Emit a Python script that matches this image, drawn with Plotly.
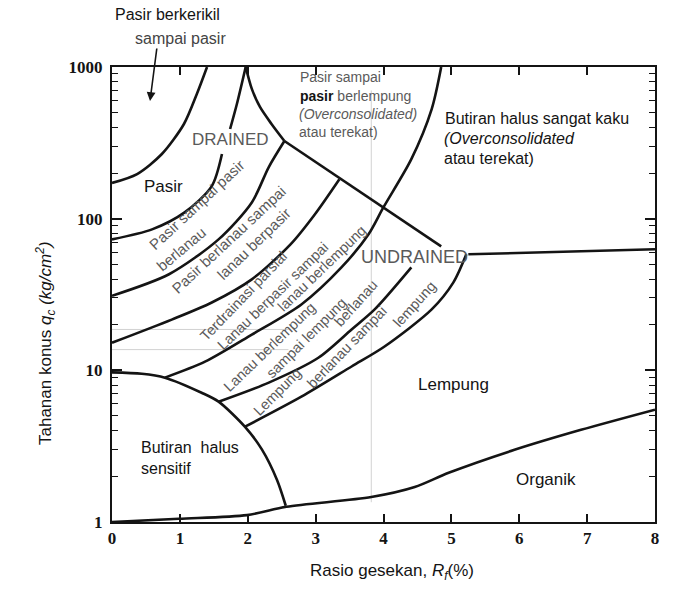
import numpy as np
import plotly.graph_objects as go

# ---- zone boundaries (Rf in %, qc in kg/cm2) ----
rf_gravel = [0.0, 0.37, 0.735, 1.06, 1.25, 1.40]
qc_gravel = [172, 197, 267, 421, 664, 1000]

rf_sand_lo = [0.0, 0.59, 1.07, 1.47, 1.62]
qc_sand_lo = [73, 85, 110, 164, 267]
rf_sand_hi = [1.74, 1.84, 1.97]
qc_sand_hi = [390, 570, 1000]

rf_cusp = [1.97, 2.06, 2.18, 2.35, 2.54]
qc_cusp = [1000, 717, 545, 421, 325]

rf_diag = [2.54, 4.85]
qc_diag = [325, 65.7]

rf_flat = [5.25, 8.0]
qc_flat = [58.2, 62.8]

rf_silty_sand = [0.0, 0.84, 1.57, 2.06, 2.31, 2.54]
qc_silty_sand = [31, 43, 73, 128, 219, 325]

rf_sandy_silt = [0.0, 0.88, 1.47, 2.06, 2.63, 2.99, 3.35]
qc_sandy_silt = [15.2, 21.6, 28.0, 39.8, 67.7, 107, 182]

rf_stiff = [0.78, 1.37, 2.06, 2.79, 3.38, 3.78, 4.0, 4.41, 4.71, 4.85]
qc_stiff = [8.95, 11.4, 17.2, 27.2, 47.7, 78.9, 119, 247, 528, 1000]

rf_clayey_silt = [1.57, 2.31, 3.04, 3.53, 3.87, 4.41]
qc_clayey_silt = [6.21, 8.3, 12.1, 18.6, 25.2, 47.7]

rf_silty_clay = [1.96, 2.79, 3.53, 4.01, 4.71, 5.03, 5.22]
qc_silty_clay = [4.25, 6.7, 10.6, 14.3, 25.2, 38.0, 58.2]

rf_sensitive = [0.0, 0.44, 0.78, 1.32, 1.57, 1.96, 2.21, 2.43, 2.56]
qc_sensitive = [9.7, 9.5, 8.95, 7.12, 6.22, 4.24, 3.0, 1.9, 1.28]

rf_organic = [0.0, 0.985, 1.99, 2.57, 3.82, 4.46, 4.96, 5.93, 6.91, 8.0]
qc_organic = [1.0, 1.05, 1.11, 1.26, 1.46, 1.70, 2.11, 2.99, 4.05, 5.50]

# faint reproduction guide lines
rf_guide_v = [3.82, 3.82]
qc_guide_v = [1.35, 700]
rf_guide_h = [0.0, 2.6]
qc_guide_h1 = [18.6, 18.6]
qc_guide_h2 = [13.7, 13.7]

x_ticks = [0, 1, 2, 3, 4, 5, 6, 7, 8]
y_ticks = [1, 10, 100, 1000]
y_minor = [m * d for d in (1, 10, 100) for m in range(2, 10)]

INK = "#141414"
GREY = "#5a5a5a"
FONT = "Liberation Sans"

fig = go.Figure()

for rx, qy in [(rf_guide_v, qc_guide_v), (rf_guide_h, qc_guide_h1), (rf_guide_h, qc_guide_h2)]:
    fig.add_trace(go.Scatter(x=rx, y=qy, mode="lines",
                             line=dict(color="#d2d2d2", width=1), hoverinfo="skip"))

curves = [
    (rf_gravel, qc_gravel, "spline"),
    (rf_sand_lo, qc_sand_lo, "spline"),
    (rf_sand_hi, qc_sand_hi, "spline"),
    (rf_cusp, qc_cusp, "spline"),
    (rf_diag, qc_diag, "linear"),
    (rf_flat, qc_flat, "linear"),
    (rf_silty_sand, qc_silty_sand, "spline"),
    (rf_sandy_silt, qc_sandy_silt, "spline"),
    (rf_stiff, qc_stiff, "spline"),
    (rf_clayey_silt, qc_clayey_silt, "spline"),
    (rf_silty_clay, qc_silty_clay, "spline"),
    (rf_sensitive, qc_sensitive, "spline"),
    (rf_organic, qc_organic, "spline"),
]
for rx, qy, shape in curves:
    fig.add_trace(go.Scatter(x=rx, y=qy, mode="lines",
                             line=dict(color=INK, width=2.6, shape=shape, smoothing=0.8),
                             hoverinfo="skip"))


def label(text, rf, qc, size=16, color=INK, angle=0, xanchor="center", italic=False):
    fig.add_annotation(x=rf, y=np.log10(qc), xref="x", yref="y", text=text,
                       showarrow=False, textangle=angle, xanchor=xanchor, yanchor="middle",
                       font=dict(family=FONT, size=size, color=color,
                                 style="italic" if italic else "normal"))


# upright zone names
label("Pasir", 0.76, 164, size=17)
label("DRAINED", 1.75, 335, size=17, color=GREY)
label("UNDRAINED", 4.46, 55.6, size=18, color=GREY)
label("Lempung", 5.03, 8.04, size=17)
label("Organik", 6.40, 1.90, size=17)
label("Butiran  halus", 0.40, 3.08, size=16, xanchor="left")
label("sensitif", 0.40, 2.27, size=16, xanchor="left")
label("Butiran halus sangat kaku", 4.88, 460, size=16, xanchor="left")
label("(Overconsolidated", 4.86, 338, size=16, xanchor="left", italic=True)
label("atau terekat)", 4.86, 249, size=16, xanchor="left")

# over-consolidated sand block
label("Pasir sampai", 2.74, 860, size=14, color=GREY, xanchor="left")
label("<b><span style='color:#141414'>pasir</span></b> berlempung", 2.74, 644, size=14,
      color=GREY, xanchor="left")
label("(Overconsolidated)", 2.72, 490, size=14, color=GREY, xanchor="left", italic=True)
label("atau terekat)", 2.72, 372, size=14, color=GREY, xanchor="left")

# zone names along the arcs
label("Pasir sampai pasir", 1.25, 124, size=15, color=GREY, angle=-43)
label("berlanau", 1.01, 62.8, size=15, color=GREY, angle=-40)
label("Pasir berlanau sampai", 1.72, 73, size=15, color=GREY, angle=-43)
label("lanau berpasir", 2.09, 68.8, size=15, color=GREY, angle=-44)
label("Terdrainasi parsial", 1.94, 30.8, size=14.5, color=GREY, angle=-46)
label("Lanau berpasir sampai", 2.37, 31.0, size=14.5, color=GREY, angle=-44)
label("lanau berlempung", 3.10, 47.0, size=14.5, color=GREY, angle=-44)
label("Lanau berlempung", 2.32, 14.3, size=14.5, color=GREY, angle=-44)
label("sampai lempung", 2.86, 16.4, size=14.5, color=GREY, angle=-45)
label("berlanau", 3.60, 27.6, size=14.5, color=GREY, angle=-48)
label("Lempung", 2.43, 7.23, size=14.5, color=GREY, angle=-45)
label("berlanau sampai", 3.46, 14.3, size=14.5, color=GREY, angle=-46)
label("lempung", 4.46, 27.2, size=14.5, color=GREY, angle=-48)

# items outside the plotting area (paper coordinates)
L, R, T, B = 112, 21, 67, 67
W, H = 676 - L - R, 589 - T - B


def px(xp):
    return (xp - L) / W


def py(yp):
    return (589 - B - yp) / H


def paper_text(text, xp, yp, size=16, color=INK, xanchor="center", angle=0):
    fig.add_annotation(x=px(xp), y=py(yp), xref="paper", yref="paper", text=text,
                       showarrow=False, xanchor=xanchor, yanchor="middle", textangle=angle,
                       font=dict(family=FONT, size=size, color=color))


paper_text("Pasir berkerikil", 113, 15, xanchor="left")
paper_text("sampai pasir", 133, 38, color="#444", xanchor="left")
fig.add_annotation(x=px(150), y=py(101), xref="paper", yref="paper", ax=7, ay=-54,
                   axref="pixel", ayref="pixel", text="", showarrow=True, arrowhead=2,
                   arrowsize=1.1, arrowwidth=1.6, arrowcolor=INK)
paper_text("Tahanan konus <i>q<sub>c</sub> (kg/cm<sup>2</sup>)</i>", 45, 343, size=17, angle=-90)
paper_text("Rasio gesekan, <i>R<sub>f</sub></i>(%)", 392, 572, size=17)

tickfont = dict(family="Liberation Serif", size=17, color=INK, weight="bold")
fig.update_xaxes(range=[0, 8], tickvals=x_ticks, ticks="inside", ticklen=8, tickwidth=1.5,
                 tickcolor=INK, showline=True, linewidth=2, linecolor=INK, mirror="ticks",
                 showgrid=False, zeroline=False, tickfont=tickfont)
fig.update_yaxes(type="log", range=[0, 3], tickvals=y_ticks, ticktext=[str(v) for v in y_ticks],
                 ticks="inside", ticklen=10, tickwidth=1.5, tickcolor=INK, showline=True,
                 linewidth=2, linecolor=INK, mirror="ticks", showgrid=False, zeroline=False,
                 tickfont=tickfont, ticklabelstandoff=4,
                 minor=dict(tickmode="array", tickvals=y_minor, ticks="inside", ticklen=6,
                            tickwidth=1.3, tickcolor=INK, showgrid=False))

fig.update_layout(width=676, height=589, margin=dict(l=L, r=R, t=T, b=B),
                  paper_bgcolor="white", plot_bgcolor="white", showlegend=False)

fig.write_html("out.html")
